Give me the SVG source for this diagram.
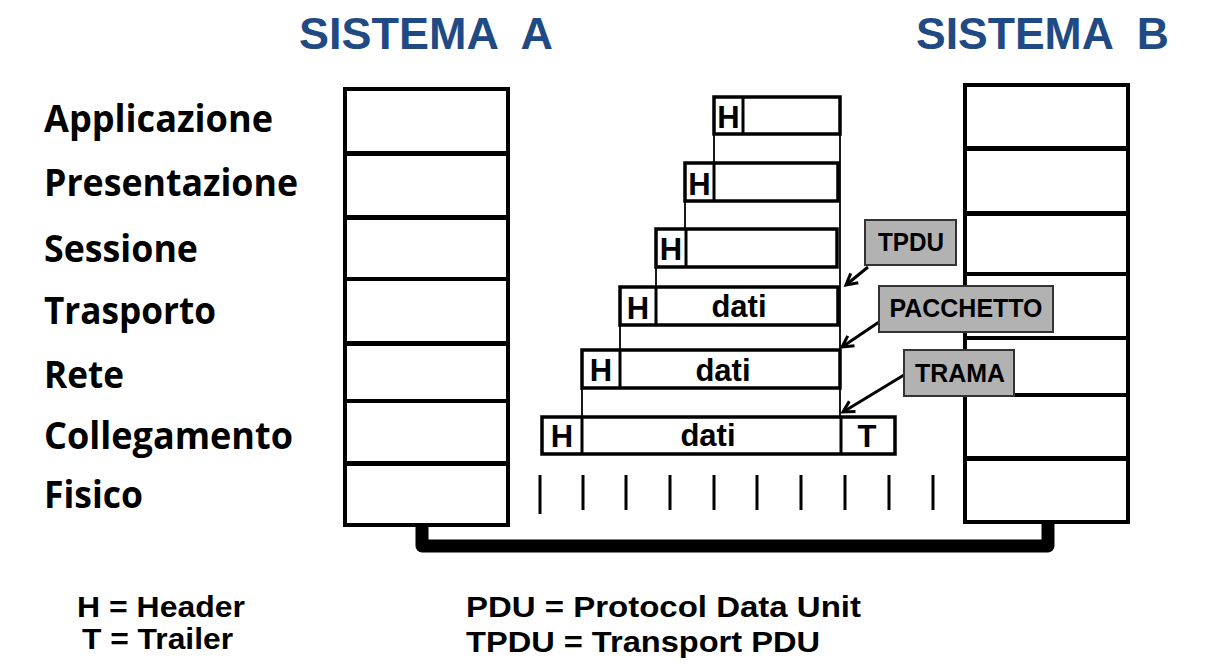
<svg xmlns="http://www.w3.org/2000/svg" width="1213" height="671" viewBox="0 0 1213 671">
<style>
.title{font-family:"Liberation Sans",Arial,sans-serif;font-weight:bold;font-size:45px;fill:#1F4A84;white-space:pre}
.layer{font-family:"Open Sans","Noto Sans",sans-serif;font-weight:bold;font-size:38px;fill:#000}
.cell{fill:#fff;stroke:#000;stroke-width:4}
.pdu{fill:#fff;stroke:#000;stroke-width:3.5}
.div{stroke:#000;stroke-width:3}
.thin{stroke:#000;stroke-width:1.8;fill:none}
.t{font-family:"Liberation Sans",Arial,sans-serif;font-weight:bold;font-size:31px;fill:#000;text-anchor:middle}
.tag{fill:#B2B2B2;stroke:#333;stroke-width:2}
.tagt{font-family:"Liberation Sans",Arial,sans-serif;font-weight:bold;font-size:25px;fill:#000;text-anchor:middle}
.arr{stroke:#000;stroke-width:3;fill:none;marker-end:url(#ah)}
.dash{stroke:#000;stroke-width:3}
.leg{font-family:"Liberation Sans",Arial,sans-serif;font-weight:bold;font-size:29px;fill:#000}
</style>
<defs>
<marker id="ah" viewBox="0 0 12 12" refX="11" refY="6" markerWidth="12" markerHeight="12" orient="auto" markerUnits="userSpaceOnUse" overflow="visible">
<polyline points="0,0 11,6 0,12" fill="none" stroke="#000" stroke-width="3"/>
</marker>
</defs>
<rect width="1213" height="671" fill="#fff"/>

<g id="titles">
<text class="title" x="299" y="49" textLength="254" lengthAdjust="spacingAndGlyphs">SISTEMA  A</text>
<text class="title" x="916" y="49" textLength="253" lengthAdjust="spacingAndGlyphs">SISTEMA  B</text>
</g>

<g id="layer-labels">
<text class="layer" x="44" y="132" textLength="229" lengthAdjust="spacingAndGlyphs">Applicazione</text>
<text class="layer" x="44" y="196" textLength="254" lengthAdjust="spacingAndGlyphs">Presentazione</text>
<text class="layer" x="44" y="262" textLength="154" lengthAdjust="spacingAndGlyphs">Sessione</text>
<text class="layer" x="44" y="324" textLength="172" lengthAdjust="spacingAndGlyphs">Trasporto</text>
<text class="layer" x="44" y="388" textLength="80" lengthAdjust="spacingAndGlyphs">Rete</text>
<text class="layer" x="44" y="449" textLength="249" lengthAdjust="spacingAndGlyphs">Collegamento</text>
<text class="layer" x="44" y="508" textLength="99" lengthAdjust="spacingAndGlyphs">Fisico</text>
</g>

<g id="connectors">
<path d="M422,524 V546 H1048 V520" fill="none" stroke="#000" stroke-width="13" stroke-linejoin="round"/>
<line class="thin" x1="714" y1="134" x2="714" y2="163"/>
<line class="thin" x1="685" y1="201" x2="685" y2="229"/>
<line class="thin" x1="656" y1="267" x2="656" y2="287"/>
<line class="thin" x1="620" y1="325" x2="620" y2="350"/>
<line class="thin" x1="582" y1="388" x2="582" y2="417"/>
<line class="thin" x1="840" y1="134" x2="840" y2="417"/>
<line class="arr" x1="868" y1="267" x2="846" y2="285"/>
<line class="arr" x1="879" y1="322" x2="842" y2="347"/>
<line class="arr" x1="904" y1="375" x2="843" y2="412"/>
</g>

<g id="sistema-a">
<rect class="cell" x="345" y="89" width="163" height="64"/>
<rect class="cell" x="345" y="154" width="163" height="63"/>
<rect class="cell" x="345" y="218" width="163" height="61"/>
<rect class="cell" x="345" y="279" width="163" height="64"/>
<rect class="cell" x="345" y="344" width="163" height="57"/>
<rect class="cell" x="345" y="401" width="163" height="62"/>
<rect class="cell" x="345" y="464" width="163" height="61"/>
</g>

<g id="sistema-b">
<rect class="cell" x="965" y="85" width="163" height="63"/>
<rect class="cell" x="965" y="149" width="163" height="64"/>
<rect class="cell" x="965" y="214" width="163" height="60"/>
<rect class="cell" x="965" y="274" width="163" height="64"/>
<rect class="cell" x="965" y="338" width="163" height="57"/>
<rect class="cell" x="965" y="395" width="163" height="63"/>
<rect class="cell" x="965" y="459" width="163" height="63"/>
</g>

<g id="pdu-applicazione">
<rect class="pdu" x="714" y="97" width="126" height="37"/>
<line class="div" x1="743" y1="97" x2="743" y2="134"/>
<text class="t" x="728.5" y="128">H</text>
</g>
<g id="pdu-presentazione">
<rect class="pdu" x="685" y="163" width="153" height="38"/>
<line class="div" x1="714" y1="163" x2="714" y2="201"/>
<text class="t" x="699.5" y="195">H</text>
</g>
<g id="pdu-sessione">
<rect class="pdu" x="656" y="229" width="181" height="38"/>
<line class="div" x1="686" y1="229" x2="686" y2="267"/>
<text class="t" x="671" y="260">H</text>
</g>
<g id="pdu-trasporto">
<rect class="pdu" x="620" y="287" width="218" height="38"/>
<line class="div" x1="656" y1="287" x2="656" y2="325"/>
<text class="t" x="638" y="319">H</text>
<text class="t" x="739" y="317">dati</text>
</g>
<g id="pdu-rete">
<rect class="pdu" x="582" y="350" width="258" height="38"/>
<line class="div" x1="620" y1="350" x2="620" y2="388"/>
<text class="t" x="601" y="381">H</text>
<text class="t" x="723" y="381">dati</text>
</g>
<g id="pdu-collegamento">
<rect class="pdu" x="542" y="417" width="353" height="37"/>
<line class="div" x1="582" y1="417" x2="582" y2="454"/>
<line class="div" x1="841" y1="417" x2="841" y2="454"/>
<text class="t" x="562" y="447">H</text>
<text class="t" x="708" y="446">dati</text>
<text class="t" x="867" y="447">T</text>
</g>

<g id="fisico-bits">
<line class="dash" x1="540" y1="475" x2="540" y2="514"/>
<line class="dash" x1="583" y1="475" x2="583" y2="510"/>
<line class="dash" x1="626" y1="475" x2="626" y2="510"/>
<line class="dash" x1="670" y1="475" x2="670" y2="510"/>
<line class="dash" x1="714" y1="475" x2="714" y2="510"/>
<line class="dash" x1="757" y1="475" x2="757" y2="510"/>
<line class="dash" x1="801" y1="475" x2="801" y2="510"/>
<line class="dash" x1="845" y1="475" x2="845" y2="510"/>
<line class="dash" x1="889" y1="475" x2="889" y2="510"/>
<line class="dash" x1="933" y1="475" x2="933" y2="510"/>
</g>

<g id="tag-tpdu">
<rect class="tag" x="865" y="220" width="91" height="45"/>
<text class="tagt" x="911" y="251" textLength="66" lengthAdjust="spacingAndGlyphs">TPDU</text>
</g>
<g id="tag-pacchetto">
<rect class="tag" x="879" y="286" width="174" height="46"/>
<text class="tagt" x="966" y="317" textLength="153" lengthAdjust="spacingAndGlyphs">PACCHETTO</text>
</g>
<g id="tag-trama">
<rect class="tag" x="904" y="350" width="110" height="46"/>
<text class="tagt" x="960" y="382" textLength="90" lengthAdjust="spacingAndGlyphs">TRAMA</text>
</g>

<g id="legend">
<text class="leg" x="77" y="617" textLength="168" lengthAdjust="spacingAndGlyphs">H = Header</text>
<text class="leg" x="82" y="649" textLength="151" lengthAdjust="spacingAndGlyphs">T = Trailer</text>
<text class="leg" x="466" y="617" textLength="395" lengthAdjust="spacingAndGlyphs">PDU = Protocol Data Unit</text>
<text class="leg" x="466" y="652" textLength="354" lengthAdjust="spacingAndGlyphs">TPDU = Transport PDU</text>
</g>
</svg>
